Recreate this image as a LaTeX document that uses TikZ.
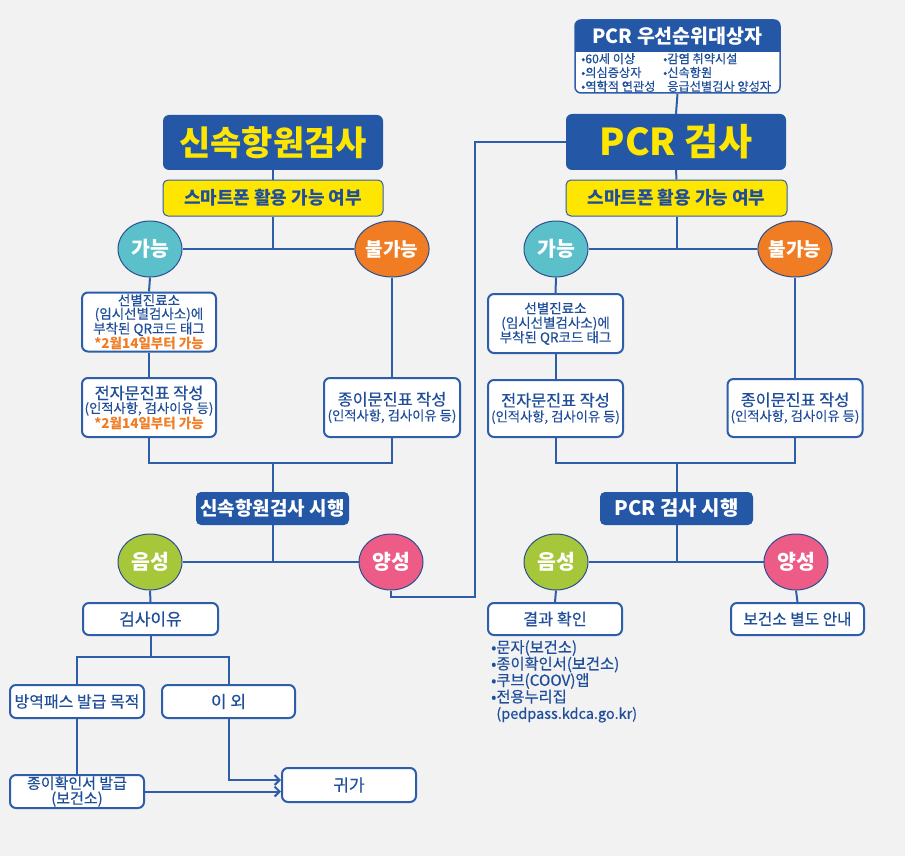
\documentclass[tikz,border=0pt]{standalone}
\usepackage{fontspec}
\setmainfont{Noto Sans CJK KR}
\newfontfamily\md[FakeBold=0.35]{Noto Sans CJK KR}
\usetikzlibrary{shapes.geometric,arrows.meta}
\definecolor{bg}{HTML}{F2F2F2}
\definecolor{dblue}{HTML}{2457A6}
\definecolor{lblue}{HTML}{2E5EAA}
\definecolor{tblue}{HTML}{1F4E9B}
\definecolor{yel}{HTML}{FFE600}
\definecolor{tyel}{HTML}{FFE600}
\definecolor{cbord}{HTML}{2C4F8F}
\definecolor{teal}{HTML}{5BC0C9}
\definecolor{orng}{HTML}{F07C23}
\definecolor{grn}{HTML}{A6C73A}
\definecolor{pnk}{HTML}{EC5C86}
\newcommand{\fs}[2]{\fontsize{#1}{#2}\selectfont}
\newcommand{\ornote}[1]{{\rmfamily\bfseries\color{orng}\fs{13.5}{14.5}#1}}
\tikzset{
  hdr/.style={fill=dblue, draw=none, rounded corners=6pt, text=tyel, font=\bfseries, inner sep=0pt},
  dbox/.style={fill=dblue, draw=none, rounded corners=5pt, text=white, font=\bfseries\fs{19}{20}, inner sep=0pt},
  ybox/.style={fill=yel, draw=lblue, line width=1pt, rounded corners=5pt, text=tblue, font=\bfseries\fs{18}{20}, inner sep=0pt},
  wbox/.style={fill=white, draw=lblue, line width=2pt, rounded corners=6pt, text=tblue, align=center, inner sep=0pt, font=\md\fs{16}{17}},
  circ/.style={ellipse, draw=cbord, line width=1pt, text=white, font=\bfseries\fs{20.5}{21}, minimum width=64pt, minimum height=56pt, inner sep=0pt},
  conn/.style={draw=lblue, line width=2pt},
  arr/.style={conn, -{Straight Barb[length=5pt,width=10pt,line width=2pt]}},
}
\begin{document}
\begin{tikzpicture}[x=1pt,y=-1pt]
\fill[bg] (0,0) rectangle (905,856);
\useasboundingbox (0,0) rectangle (905,856);

% ---------- PCR priority box ----------
\node[wbox, line width=1.5pt, minimum width=205pt, minimum height=73pt] (prio) at (677.5,56.5) {};
\node[fill=dblue, rounded corners=6pt, minimum width=205pt, minimum height=32pt, inner sep=0pt] (priohead) at (677.5,36) {};
\fill[dblue] (priohead.south west) rectangle ([yshift=7pt]priohead.south east);
\node[text=white, font=\bfseries\fs{19.5}{20}] (priotitle) at (677.5,36) {PCR 우선순위대상자};
\node[anchor=west, align=left, text=tblue, font=\md\fs{12.2}{13.8}, inner sep=0pt] (priol) at (581,72.5) {•60세 이상\\•의심증상자\\•역학적 연관성};
\node[anchor=west, align=left, text=tblue, font=\md\fs{12.2}{13.8}, inner sep=0pt] (prior) at (663,72.5) {•감염 취약시설\\•신속항원\\\phantom{•}응급선별검사 양성자};

% ---------- headers ----------
\node[hdr, font=\bfseries\fs{34}{35}, minimum width=220pt, minimum height=55pt] (rat) at (273,142.5) {신속항원검사};
\node[hdr, font=\bfseries\fs{37}{38}, minimum width=220pt, minimum height=56pt] (pcr) at (676,142) {PCR 검사};
\node[ybox, minimum width=220pt, minimum height=36pt] (ysL) at (273,198) {스마트폰 활용 가능 여부};
\node[ybox, minimum width=221pt, minimum height=36pt] (ysR) at (676.5,198) {스마트폰 활용 가능 여부};

% ---------- circles row 1 ----------
\node[circ, fill=teal] (gL) at (150,249) {가능};
\node[circ, fill=orng, font=\bfseries\fs{19}{20}] (nL) at (392,249) {불가능};
\node[circ, fill=teal] (gR) at (556,249) {가능};
\node[circ, fill=orng, font=\bfseries\fs{19}{20}] (nR) at (795,249) {불가능};

% ---------- left column boxes ----------
\node[wbox, font=\md\fs{13.5}{13.4}, minimum width=134pt, minimum height=59pt] (snL) at (149,322)
  {선별진료소\\(임시선별검사소)에\\부착된 QR코드 태그\\\ornote{*2월14일부터 가능}};
\node[wbox, font=\md\fs{13.3}{14}, minimum width=134pt, minimum height=59pt] (ejL) at (149,407.5)
  {{\fs{16.3}{16}전자문진표 작성}\\(인적사항, 검사이유 등)\\\ornote{*2월14일부터 가능}};
\node[wbox, font=\md\fs{13.3}{14}, minimum width=136pt, minimum height=59pt] (pjL) at (392,407.5)
  {{\fs{16.3}{16}종이문진표 작성}\\[1pt](인적사항, 검사이유 등)};

% ---------- right column boxes ----------
\node[wbox, font=\md\fs{13.5}{14.5}, minimum width=135pt, minimum height=59pt] (snR) at (555.5,323.5)
  {선별진료소\\(임시선별검사소)에\\부착된 QR코드 태그};
\node[wbox, font=\md\fs{13.3}{14}, minimum width=135pt, minimum height=57pt] (ejR) at (555.5,408.5)
  {{\fs{16.3}{16}전자문진표 작성}\\[1pt](인적사항, 검사이유 등)};
\node[wbox, font=\md\fs{13.3}{14}, minimum width=135pt, minimum height=58pt] (pjR) at (795,408)
  {{\fs{16.3}{16}종이문진표 작성}\\[1pt](인적사항, 검사이유 등)};

% ---------- execution boxes ----------
\coordinate (jL) at (272.5,463);
\coordinate (jR) at (676.5,463);
\node[dbox, minimum width=153pt, minimum height=33pt] (rsL) at (272.5,508.5) {신속항원검사 시행};
\node[dbox, font=\bfseries\fs{20}{21}, minimum width=153pt, minimum height=33pt] (prR) at (676.5,508.5) {PCR 검사 시행};

% ---------- circles row 2 ----------
\node[circ, fill=grn] (umL) at (150,562) {음성};
\node[circ, fill=pnk] (psL) at (391,562) {양성};
\node[circ, fill=grn] (umR) at (556,562) {음성};
\node[circ, fill=pnk] (psR) at (796,562) {양성};

% ---------- bottom left ----------
\node[wbox, font=\md\fs{17}{18}, minimum width=135pt, minimum height=32pt] (reason) at (150.5,619) {검사이유};
\coordinate (jr) at (150.5,657);
\node[wbox, minimum width=134pt, minimum height=33pt] (bang) at (77,701.5) {방역패스 발급 목적};
\node[wbox, font=\md\fs{17}{18}, minimum width=133pt, minimum height=33pt] (iwe) at (228.5,701.5) {이 외};
\node[wbox, font=\md\fs{15}{15}, minimum width=134pt, minimum height=33pt] (paper) at (77,791.5) {종이확인서 발급\\(보건소)};
\node[wbox, font=\md\fs{17}{18}, minimum width=134pt, minimum height=34pt] (home) at (349,785) {귀가};

% ---------- bottom right ----------
\node[wbox, font=\md\fs{16.3}{17}, minimum width=134pt, minimum height=32pt] (resR) at (555,619) {결과 확인};
\node[wbox, font=\md\fs{15.7}{17}, minimum width=133pt, minimum height=32pt] (bgR) at (797.5,619) {보건소 별도 안내};
\node[anchor=north west, align=left, text=tblue, font=\md\fs{15.3}{16.5}, inner sep=0pt] (reslist) at (491,640)
  {•문자(보건소)\\•종이확인서(보건소)\\•쿠브(COOV)앱\\•전용누리집\\\phantom{•}{\fs{14.5}{15}(pedpass.kdca.go.kr)}};

% ---------- connectors ----------
\coordinate (turn) at (475,597);
\draw[conn] (prio.south) -- (pcr.north);
\draw[conn] (rat.south) -- (ysL.north);
\draw[conn] (pcr.south) -- (ysR.north);
\draw[conn] (ysL.south) -- (ysL.south |- gL.east);
\draw[conn] (gL.east) -- (nL.west);
\draw[conn] (ysR.south) -- (ysR.south |- gR.east);
\draw[conn] (gR.east) -- (nR.west);
\draw[conn] (gL.south) -- (snL.north);
\draw[conn] (snL.south) -- (ejL.north);
\draw[conn] (nL.south) -- (pjL.north);
\draw[conn] (gR.south) -- (snR.north);
\draw[conn] (snR.south) -- (ejR.north);
\draw[conn] (nR.south) -- (pjR.north);
\draw[conn] (ejL.south) |- (jL) -| (pjL.south);
\draw[conn] (jL) -- (rsL.north);
\draw[conn] (ejR.south) |- (jR) -| (pjR.south);
\draw[conn] (jR) -- (prR.north);
\draw[conn] (rsL.south) -- (rsL.south |- umL.east);
\draw[conn] (umL.east) -- (psL.west);
\draw[conn] (prR.south) -- (prR.south |- umR.east);
\draw[conn] (umR.east) -- (psR.west);
\draw[conn] (psL.south) |- (turn) |- (pcr.west);
\draw[conn] (umL.south) -- (reason.north);
\draw[conn] (umR.south) -- (resR.north);
\draw[conn] (psR.south) -- (bgR.north);
\draw[conn] (reason.south) -- (jr);
\draw[conn] (bang.north) |- (jr) -| (iwe.north);
\draw[conn] (bang.south) -- (paper.north);
\draw[arr] (iwe.south) |- ([yshift=5pt]home.west);
\draw[arr] (paper.east) -- (paper.east -| home.west);
\end{tikzpicture}
\end{document}
